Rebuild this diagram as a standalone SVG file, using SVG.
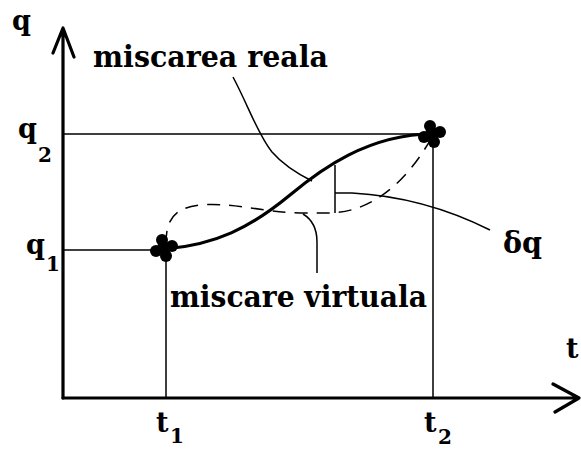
<svg xmlns="http://www.w3.org/2000/svg" width="581" height="450" viewBox="0 0 581 450">
<style>
.thin{fill:none;stroke:#000;stroke-width:1.5}
.axis{fill:none;stroke:#000;stroke-width:3.2;stroke-linecap:round;stroke-linejoin:round}
</style>
<defs>
<g id="star">
<circle cx="0" cy="0" r="7"/>
<circle cx="-2" cy="-8" r="6"/>
<circle cx="8" cy="-2" r="6"/>
<circle cx="2" cy="8" r="6"/>
<circle cx="-8" cy="3" r="6"/>
</g>
</defs>
<rect width="581" height="450" fill="#fff"/>
<g id="axes">
<path class="axis" d="M63,398 L63,28 M53,53 L63,28 L74,57"/>
<path class="axis" d="M63,398 L579,398 M553,384 L579,398 L555,412"/>
</g>
<g id="guides">
<path class="thin" d="M63,134 L433,134 M63,250 L166,250 M166,250 L166,398 M433,134 L433,398"/>
</g>
<g id="connectors">
<path fill="none" stroke="#000" stroke-width="3.2" d="M165,249 C215,245 250,228 290,195 C320,170 368,134 433,134"/>
<path class="thin" stroke-dasharray="13,9" d="M166,244 C166,222 172,208 200,205 C232,202 262,212 300,213 L330,213 C370,212 405,185 432,137"/>
<path class="thin" d="M335,165 L335,213 M335,193 L352,193 C390,195 440,205 490,230"/>
<path class="thin" d="M233,77 C248,105 258,135 272,152 C285,167 300,175 312,181"/>
<path class="thin" d="M303,214 C313,220 317,230 317,242 L317,273"/>
</g>
<g id="points">
<use href="#star" x="164" y="248"/>
<use href="#star" x="432" y="134"/>
</g>
<g id="labels" font-family="'DejaVu Serif', 'Liberation Serif', serif" font-weight="bold" fill="#000">
<text x="12" y="30" font-size="27">q</text>
<text x="566" y="358" font-size="27">t</text>
<text x="18" y="138" font-size="27">q</text>
<text x="38" y="162" font-size="20">2</text>
<text x="26" y="254" font-size="27">q</text>
<text x="46" y="271" font-size="20">1</text>
<text x="156" y="432" font-size="27">t</text>
<text x="170" y="443" font-size="20">1</text>
<text x="424" y="432" font-size="27">t</text>
<text x="438" y="444" font-size="20">2</text>
<text x="503" y="253" font-size="30" textLength="39" lengthAdjust="spacingAndGlyphs">δq</text>
<text x="93" y="67" font-size="30" textLength="235" lengthAdjust="spacingAndGlyphs">miscarea reala</text>
<text x="170" y="307" font-size="30" textLength="257" lengthAdjust="spacingAndGlyphs">miscare virtuala</text>
</g>
</svg>
